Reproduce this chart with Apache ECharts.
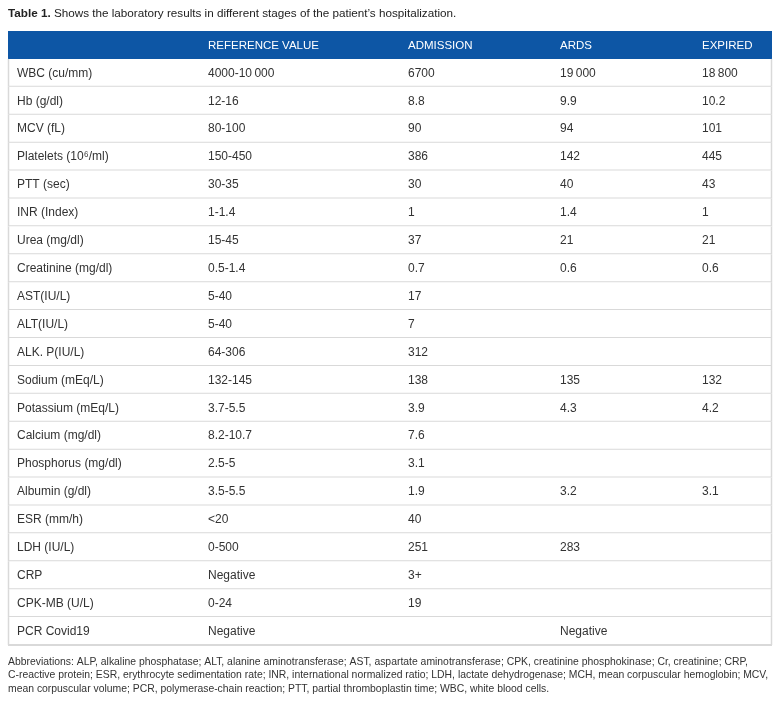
<!DOCTYPE html>
<html>
<head>
<meta charset="utf-8">
<script src="https://cdn.jsdelivr.net/npm/echarts@6/dist/echarts.min.js"></script>
<style>html,body{margin:0;padding:0;background:#fff;}#chart{width:781px;height:702px;}</style>
</head>
<body>
<div id="chart"></div>
<script>
// ---- data ----
var columnHeaders = ['', 'REFERENCE VALUE', 'ADMISSION', 'ARDS', 'EXPIRED'];
var tests = ['WBC (cu/mm)', 'Hb (g/dl)', 'MCV (fL)', 'Platelets (10\u2076/ml)', 'PTT (sec)', 'INR (Index)',
  'Urea (mg/dl)', 'Creatinine (mg/dl)', 'AST(IU/L)', 'ALT(IU/L)', 'ALK. P(IU/L)', 'Sodium (mEq/L)',
  'Potassium (mEq/L)', 'Calcium (mg/dl)', 'Phosphorus (mg/dl)', 'Albumin (g/dl)', 'ESR (mm/h)',
  'LDH (IU/L)', 'CRP', 'CPK-MB (U/L)', 'PCR Covid19'];
var referenceValues = ['4000-10\u2009000', '12-16', '80-100', '150-450', '30-35', '1-1.4', '15-45', '0.5-1.4',
  '5-40', '5-40', '64-306', '132-145', '3.7-5.5', '8.2-10.7', '2.5-5', '3.5-5.5', '<20', '0-500',
  'Negative', '0-24', 'Negative'];
var admission = ['6700', '8.8', '90', '386', '30', '1', '37', '0.7', '17', '7', '312', '138', '3.9', '7.6',
  '3.1', '1.9', '40', '251', '3+', '19', ''];
var ards = ['19\u2009000', '9.9', '94', '142', '40', '1.4', '21', '0.6', '', '', '', '135', '4.3', '', '',
  '3.2', '', '283', '', '', 'Negative'];
var expired = ['18\u2009800', '10.2', '101', '445', '43', '1', '21', '0.6', '', '', '', '132', '4.2', '', '',
  '3.1', '', '', '', '', ''];
var titleText = 'Shows the laboratory results in different stages of the patient\u2019s hospitalization.';
var footnoteLines = [
  'Abbreviations: ALP, alkaline phosphatase; ALT, alanine aminotransferase; AST, aspartate aminotransferase; CPK, creatinine phosphokinase; Cr, creatinine; CRP,',
  'C-reactive protein; ESR, erythrocyte sedimentation rate; INR, international normalized ratio; LDH, lactate dehydrogenase; MCH, mean corpuscular hemoglobin; MCV,',
  'mean corpuscular volume; PCR, polymerase-chain reaction; PTT, partial thromboplastin time; WBC, white blood cells.'
];

// ---- layout ----
var colTextX = [9, 200, 400, 552, 694];
var rowKeys = ['header'].concat(tests);
var rows = [columnHeaders].concat(tests.map(function (t, i) {
  return [t, referenceValues[i], admission[i], ards[i], expired[i]];
}));

var chart = echarts.init(document.getElementById('chart'), null, {renderer: 'canvas'});
var FONT = '"Liberation Sans", Arial, Helvetica, sans-serif';

function renderItem(params, api) {
  var r = api.value(0);
  var c = api.coord([0, r]);
  var band = api.size([0, 1])[1];
  var cs = params.coordSys;
  var top = c[1] - band / 2;
  var children = [];
  var isHeader = r === 0;
  children.push({
    type: 'rect',
    shape: {x: cs.x, y: top, width: cs.width, height: band},
    style: {fill: isHeader ? '#0d56a5' : '#ffffff'}
  });
  if (!isHeader) {
    children.push({type: 'line', shape: {x1: cs.x, y1: top + band, x2: cs.x + cs.width, y2: top + band},
      style: {stroke: '#d9d9d9', lineWidth: 2}});
    children.push({type: 'line', shape: {x1: cs.x + 0.5, y1: top, x2: cs.x + 0.5, y2: top + band},
      style: {stroke: '#d9d9d9', lineWidth: 1.5}});
    children.push({type: 'line', shape: {x1: cs.x + cs.width - 0.5, y1: top, x2: cs.x + cs.width - 0.5, y2: top + band},
      style: {stroke: '#d9d9d9', lineWidth: 1.5}});
  }
  var cells = rows[r];
  for (var j = 0; j < cells.length; j++) {
    if (!cells[j]) continue;
    var p = api.coord([colTextX[j], r]);
    children.push({
      type: 'text',
      x: p[0], y: p[1] + (isHeader ? 1 : 0.5),
      style: {
        text: cells[j],
        fill: isHeader ? '#ffffff' : '#333333',
        font: (isHeader ? '11.5px ' : '12px ') + FONT,
        align: 'left', verticalAlign: 'middle'
      }
    });
  }
  return {type: 'group', children: children};
}

chart.setOption({
  animation: false,
  title: [{
    text: '{b|Table 1.} ' + titleText,
    left: 8, top: 8, padding: 0,
    textStyle: {fontSize: 11.7, fontWeight: 'normal', color: '#222', fontFamily: FONT,
      rich: {b: {fontSize: 11.7, fontWeight: 'bold', color: '#222', fontFamily: FONT}}}
  }, {
    text: footnoteLines.join('\n'),
    left: 8, top: 655, padding: 0,
    textStyle: {fontSize: 10.4, fontWeight: 'normal', color: '#333', fontFamily: FONT, lineHeight: 13.5}
  }],
  grid: {left: 8, right: 9, top: 31, bottom: 57, containLabel: false},
  xAxis: {type: 'value', min: 0, max: 764, show: false},
  yAxis: {type: 'category', data: rowKeys, inverse: true, show: false},
  series: [{
    type: 'custom',
    renderItem: renderItem,
    data: rowKeys.map(function (k, i) { return [i]; }),
    encode: {y: 0}
  }]
});
</script>
</body>
</html>
